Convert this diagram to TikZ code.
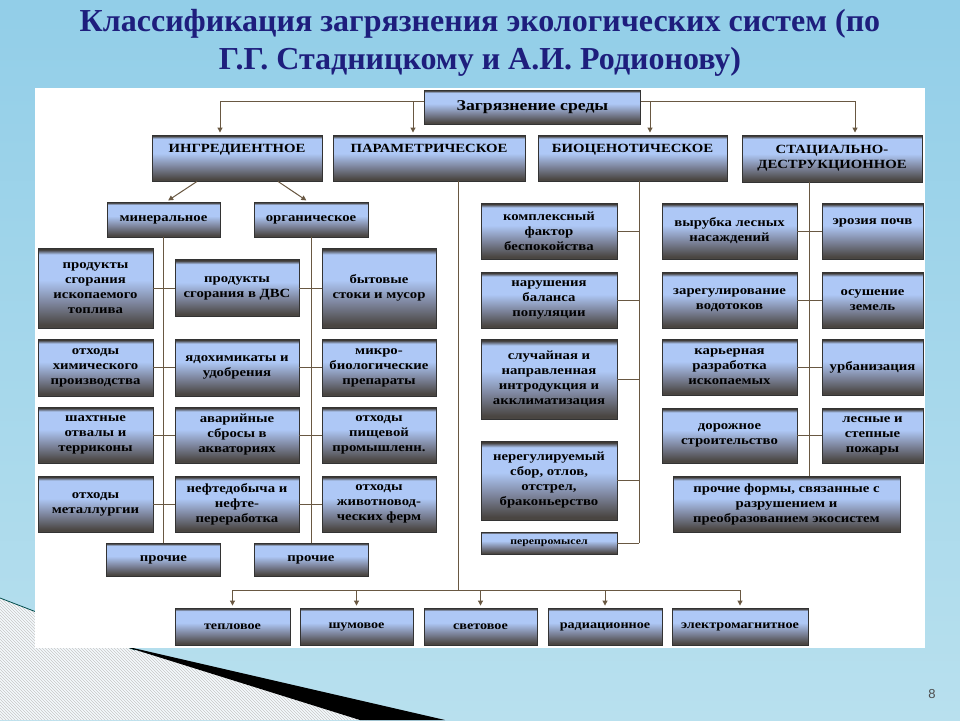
\documentclass[tikz,border=0pt]{standalone}
\usepackage{fontspec}
\setmainfont{Liberation Serif}
\setsansfont{Liberation Sans}
\newfontfamily\boxfont[FakeStretch=1.18]{Liberation Serif}
\usetikzlibrary{arrows.meta,patterns}

\definecolor{slidetop}{RGB}{146,206,232}
\definecolor{slidebot}{RGB}{184,224,238}
\definecolor{titleblue}{RGB}{30,30,125}
\definecolor{bxtopc}{RGB}{62,58,54}
\definecolor{bxlight}{RGB}{174,200,246}
\definecolor{bxmid}{RGB}{126,134,158}
\definecolor{bxbot}{RGB}{74,70,66}
\definecolor{connc}{RGB}{105,88,66}

\pgfdeclareverticalshading{boxshade}{100bp}{color(0bp)=(bxbot); color(27bp)=(bxbot); color(41bp)=(bxmid); color(55bp)=(bxlight); color(71bp)=(bxlight); color(74bp)=(bxtopc); color(100bp)=(bxtopc)}

\tikzset{
  bx/.style={draw=black!80, line width=0.9pt, shading=boxshade, align=center,
    inner sep=2pt, font=\boxfont\bfseries\fontsize{12.5}{15}\selectfont},
  bxsmall/.style={bx, font=\boxfont\bfseries\fontsize{12}{14}\selectfont},
  conn/.style={draw=connc, line width=1pt},
  arr/.style={conn, -{Triangle[length=5pt,width=5pt]}, shorten >=2pt}
}

\begin{document}
\begin{tikzpicture}[x=1pt,y=-1pt]
  \useasboundingbox (0,0) rectangle (960,720);
  \shade[top color=slidetop, bottom color=slidebot] (0,0) rectangle (960,720);

  \fill[white!90!slidetop] (0,598) -- (135,650) -- (370,720) -- (0,720) -- cycle;
  \fill[pattern=north west lines, pattern color=black!22]
    (0,598) -- (135,650) -- (370,720) -- (0,720) -- cycle;
  \draw[teal!60!black, line width=0.8pt] (0,598) -- (135,650);
  \fill[black] (120,645) -- (445,720) -- (360,720) -- cycle;

  \node[font=\bfseries\fontsize{32}{38}\selectfont, text=titleblue, align=center]
    (title) at (480,43)
    {Классификация загрязнения экологических систем (по\\Г.Г. Стадницкому и А.И. Родионову)};
  \node[font=\sffamily\fontsize{13}{15}\selectfont, text=black!70] (pg) at (932,694) {8};

  \fill[white] (35,88) rectangle (925,648);

  \node[bx, font=\boxfont\bfseries\fontsize{15}{18}\selectfont,
    minimum width=216pt, minimum height=34pt] (zag) at (532.5,107) {Загрязнение среды};

  \node[bx, text depth=20pt, minimum width=170pt, minimum height=46pt] (ingr)
    at (237,158) {ИНГРЕДИЕНТНОЕ};
  \node[bx, text depth=20pt, minimum width=192pt, minimum height=46pt] (param)
    at (429,158) {ПАРАМЕТРИЧЕСКОЕ};
  \node[bx, text depth=20pt, minimum width=189pt, minimum height=46pt] (bio)
    at (632.5,158) {БИОЦЕНОТИЧЕСКОЕ};
  \node[bx, minimum width=180pt, minimum height=47pt] (stad)
    at (832,158.5) {СТАЦИАЛЬНО-\\ДЕСТРУКЦИОННОЕ};

  \node[bx, minimum width=113pt, minimum height=35pt] (min) at (163.5,219.5) {минеральное};
  \node[bx, minimum width=114pt, minimum height=35pt] (org) at (311,219.5) {органическое};

  \node[bx, minimum width=115pt, minimum height=80pt] (l1) at (95.5,288)
    {продукты\\сгорания\\ископаемого\\топлива};
  \node[bx, minimum width=115pt, minimum height=57pt] (l2) at (95.5,367.5)
    {отходы\\химического\\производства};
  \node[bx, minimum width=115pt, minimum height=56pt] (l3) at (95.5,435)
    {шахтные\\отвалы и\\терриконы};
  \node[bx, minimum width=115pt, minimum height=56pt] (l4) at (95.5,504)
    {отходы\\металлургии};

  \node[bx, minimum width=124pt, minimum height=57pt] (m1) at (237,288)
    {продукты\\сгорания в ДВС};
  \node[bx, minimum width=124pt, minimum height=57pt] (m2) at (237,367.5)
    {ядохимикаты и\\удобрения};
  \node[bx, minimum width=124pt, minimum height=56pt] (m3) at (237,435)
    {аварийные\\сбросы в\\акваториях};
  \node[bx, minimum width=124pt, minimum height=56pt] (m4) at (237,504)
    {нефтедобыча и\\нефте-\\переработка};

  \node[bx, minimum width=114pt, minimum height=80pt] (r1) at (379,288)
    {бытовые\\стоки и мусор};
  \node[bx, minimum width=114pt, minimum height=57pt] (r2) at (379,367.5)
    {микро-\\биологические\\препараты};
  \node[bx, minimum width=114pt, minimum height=56pt] (r3) at (379,435)
    {отходы\\пищевой\\промышленн.};
  \node[bx, minimum width=114pt, minimum height=56pt] (r4) at (379,504)
    {отходы\\животновод-\\ческих ферм};

  \node[bx, minimum width=114pt, minimum height=33pt] (proch1) at (163.5,559.5) {прочие};
  \node[bx, minimum width=114pt, minimum height=33pt] (proch2) at (311,559.5) {прочие};

  \node[bx, minimum width=136pt, minimum height=56pt] (b1) at (549,231)
    {комплексный\\фактор\\беспокойства};
  \node[bx, minimum width=136pt, minimum height=56pt] (b2) at (549,300)
    {нарушения\\баланса\\популяции};
  \node[bx, minimum width=136pt, minimum height=80pt] (b3) at (549,379)
    {случайная и\\направленная\\интродукция и\\акклиматизация};
  \node[bx, minimum width=136pt, minimum height=79pt] (b4) at (549,480.5)
    {нерегулируемый\\сбор, отлов,\\отстрел,\\браконьерство};
  \node[bx, font=\boxfont\bfseries\fontsize{10}{12}\selectfont,
    minimum width=136pt, minimum height=22pt] (b5) at (549,543) {перепромысел};

  \node[bx, minimum width=135pt, minimum height=56pt] (s1) at (729.5,231)
    {вырубка лесных\\насаждений};
  \node[bx, minimum width=135pt, minimum height=56pt] (s2) at (729.5,300)
    {зарегулирование\\водотоков};
  \node[bx, minimum width=135pt, minimum height=56pt] (s3) at (729.5,367)
    {карьерная\\разработка\\ископаемых};
  \node[bx, minimum width=135pt, minimum height=55pt] (s4) at (729.5,435.5)
    {дорожное\\строительство};

  \node[bx, text depth=19pt, minimum width=101pt, minimum height=56pt] (e1)
    at (872.5,231) {эрозия почв};
  \node[bx, minimum width=101pt, minimum height=56pt] (e2) at (872.5,300)
    {осушение\\земель};
  \node[bx, minimum width=101pt, minimum height=56pt] (e3) at (872.5,367) {урбанизация};
  \node[bx, minimum width=101pt, minimum height=55pt] (e4) at (872.5,435.5)
    {лесные и\\степные\\пожары};
  \node[bx, minimum width=227pt, minimum height=56pt] (pf) at (786.5,504)
    {прочие формы, связанные с\\разрушением и\\преобразованием экосистем};

  \node[bxsmall, minimum width=115pt, minimum height=37pt] (t1) at (232.5,626.5) {тепловое};
  \node[bxsmall, minimum width=113pt, minimum height=37pt] (t2) at (356.5,626.5) {шумовое};
  \node[bxsmall, minimum width=113pt, minimum height=37pt] (t3) at (480.5,626.5) {световое};
  \node[bxsmall, minimum width=114pt, minimum height=37pt] (t4) at (605,626.5) {радиационное};
  \node[bxsmall, minimum width=136pt, minimum height=37pt] (t5) at (740,626.5) {электромагнитное};

  \coordinate (jl) at (413,101);
  \coordinate (jr) at (650,101);
  \draw[arr] ([yshift=6pt]zag.west) -| ([xshift=-17pt]ingr.north);
  \draw[arr] (jl) -- (jl |- param.north);
  \draw[arr] ([yshift=6pt]zag.east) -| ([xshift=23pt]stad.north);
  \draw[arr] (jr) -- (jr |- bio.north);

  \draw[arr] ([xshift=-40pt]ingr.south) -- ([xshift=3pt]min.north);
  \draw[arr] ([xshift=41pt]ingr.south) -- ([xshift=-3pt]org.north);

  \draw[conn] (min) -- (proch1);
  \draw[conn] (org) -- (proch2);
  \draw[conn] (l1) -- (m1);
  \draw[conn] (l2) -- (m2);
  \draw[conn] (l3) -- (m3);
  \draw[conn] (l4) -- (m4);
  \draw[conn] (m1) -- (r1);
  \draw[conn] (m2) -- (r2);
  \draw[conn] (m3) -- (r3);
  \draw[conn] (m4) -- (r4);

  \coordinate (bv) at (639,543);
  \draw[conn] (bio.south -| bv) -- (bv);
  \draw[conn] (b1.east) -- (b1.east -| bv);
  \draw[conn] (b2.east) -- (b2.east -| bv);
  \draw[conn] (b3.east) -- (b3.east -| bv);
  \draw[conn] (b4.east) -- (b4.east -| bv);
  \draw[conn] (b5.east) -- (bv);

  \coordinate (sv) at (809,476);
  \draw[conn] (stad.south -| sv) -- (sv);
  \draw[conn] (s1) -- (e1);
  \draw[conn] (s2) -- (e2);
  \draw[conn] (s3) -- (e3);
  \draw[conn] (s4) -- (e4);

  \coordinate (pv) at (458,590);
  \draw[conn] (param.south -| pv) -- (pv);
  \draw[arr] (pv) -| (t1.north);
  \draw[arr] (pv) -| (t2.north);
  \draw[arr] (pv) -| (t3.north);
  \draw[arr] (pv) -| (t4.north);
  \draw[arr] (pv) -| (t5.north);
\end{tikzpicture}
\end{document}
